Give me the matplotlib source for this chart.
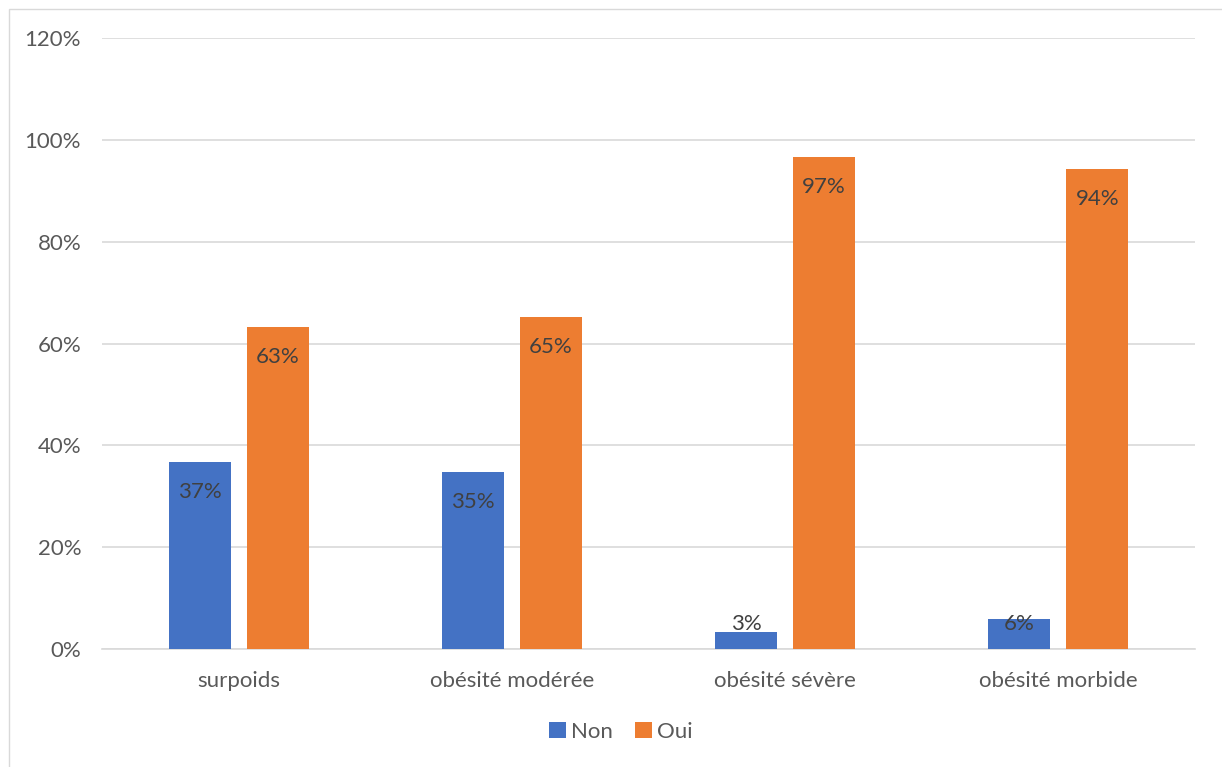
import matplotlib
matplotlib.use("Agg")
import matplotlib.pyplot as plt
from matplotlib.patches import Rectangle
from matplotlib.ticker import FuncFormatter
import numpy as np

categories = ["surpoids", "obésité modérée", "obésité sévère", "obésité morbide"]
series_names = ["Non", "Oui"]
non_values = [36.7, 34.8, 3.3, 5.8]
oui_values = [63.3, 65.2, 96.7, 94.2]
non_labels = ["37%", "35%", "3%", "6%"]
oui_labels = ["63%", "65%", "97%", "94%"]
y_ticks = [0, 20, 40, 60, 80, 100, 120]

BLUE = "#4472C4"
ORANGE = "#ED7D31"
TEXT = "#595959"
GRID = "#D9D9D9"

plt.rcParams['font.family'] = ['Lato', 'DejaVu Sans']

W, H = 1222, 767
fig = plt.figure(figsize=(W / 100, H / 100), dpi=100)
fig.patch.set_facecolor("white")
fig.patches.append(Rectangle((9 / W, -10 / H), (1240 - 9) / W, (758 + 10) / H,
                             transform=fig.transFigure, fill=False,
                             edgecolor=GRID, linewidth=1.0))

left, right, top, bottom = 102, 1195, 38, 649
ax = fig.add_axes([left / W, 1 - bottom / H, (right - left) / W, (bottom - top) / H])

x = np.arange(len(categories))
bw = 0.227
gap = 0.0586
off = (bw + gap) / 2
b1 = ax.bar(x - off, non_values, bw, color=BLUE, label=series_names[0], zorder=3)
b2 = ax.bar(x + off, oui_values, bw, color=ORANGE, label=series_names[1], zorder=3)

def label_pos(v):
    return max(v - 5.9, 5.0)

FS = 16
for xi, v, lab in zip(x - off, non_values, non_labels):
    ax.text(xi, label_pos(v), lab, ha="center", va="center", fontsize=FS, color="#404040", zorder=4)
for xi, v, lab in zip(x + off, oui_values, oui_labels):
    ax.text(xi, label_pos(v), lab, ha="center", va="center", fontsize=FS, color="#404040", zorder=4)

ax.set_xlim(-0.5, len(categories) - 0.5)
ax.set_ylim(0, 120)
ax.set_yticks(y_ticks)
ax.yaxis.set_major_formatter(FuncFormatter(lambda v, p: f"{int(v)}%"))
ax.set_xticks(x)
ax.set_xticklabels(categories)
ax.tick_params(axis="both", length=0, labelsize=FS, labelcolor=TEXT)
ax.tick_params(axis="y", pad=15)
ax.tick_params(axis="x", pad=16)
ax.grid(axis="y", color=GRID, linewidth=1.2, zorder=0)
ax.set_axisbelow(True)
for s in ["top", "right", "left"]:
    ax.spines[s].set_visible(False)
ax.spines["bottom"].set_color(GRID)
ax.spines["bottom"].set_linewidth(1.2)

leg = fig.legend(handles=[b1, b2], labels=series_names, loc="center",
                 bbox_to_anchor=(621 / W, 1 - 732 / H), ncol=2, frameon=False,
                 fontsize=FS, handlelength=0.75, handleheight=0.75,
                 handletextpad=0.25, columnspacing=1.0)
for t in leg.get_texts():
    t.set_color(TEXT)

fig.savefig("out.png", dpi=100, facecolor="white")
